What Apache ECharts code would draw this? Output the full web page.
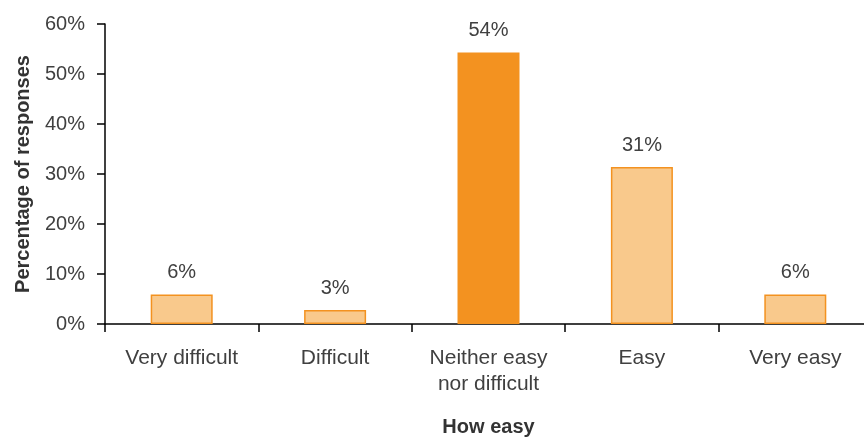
<!DOCTYPE html>
<html><head><meta charset="utf-8">
<script src="https://cdn.jsdelivr.net/npm/echarts@6/dist/echarts.min.js"></script>
<style>html,body{margin:0;padding:0;background:#fff}#c{width:864px;height:437px}</style>
</head><body><div id="c"></div>
<script>
const categories = ['Very difficult', 'Difficult', 'Neither easy\nnor difficult', 'Easy', 'Very easy'];
const values = [5.9, 2.8, 54.3, 31.4, 5.9];
const highlight = [false, false, true, false, false];
const yTicks = [0, 10, 20, 30, 40, 50, 60];

const chart = echarts.init(document.getElementById('c'));
const font = 'Liberation Sans, Arial, sans-serif';
chart.setOption({
  animation: false,
  grid: { left: 105, right: -8, top: 24, bottom: 113, containLabel: false, outerBoundsMode: 'none' },
  xAxis: {
    type: 'category', data: categories,
    name: 'How easy', nameLocation: 'middle', nameGap: 93,
    nameTextStyle: { fontFamily: font, fontSize: 20, fontWeight: 'bold', color: '#333' },
    axisLine: { lineStyle: { color: '#000', width: 1.5 } },
    axisTick: { show: true, alignWithLabel: false, length: 8, lineStyle: { color: '#000', width: 1.5 } },
    axisLabel: { fontFamily: font, fontSize: 21, color: '#404040', margin: 21, lineHeight: 26, interval: 0 }
  },
  yAxis: {
    type: 'value', min: yTicks[0], max: yTicks[yTicks.length - 1], interval: 10,
    name: 'Percentage of responses', nameLocation: 'middle', nameGap: 72, nameRotate: 90,
    nameTextStyle: { fontFamily: font, fontSize: 20, fontWeight: 'bold', color: '#333' },
    axisLine: { show: true, lineStyle: { color: '#000', width: 1.5 } },
    axisTick: { show: true, length: 8, lineStyle: { color: '#000', width: 1.5 } },
    splitLine: { show: false },
    axisLabel: { fontFamily: font, fontSize: 20, color: '#404040', margin: 20, formatter: v => v + '%' }
  },
  series: [{
    type: 'bar', barWidth: 62,
    data: values.map((v, i) => ({
      value: v,
      itemStyle: highlight[i]
        ? { color: '#F39220', borderColor: '#F39220', borderWidth: 0 }
        : { color: '#F9C98C', borderColor: '#F39220', borderWidth: 1.5 }
    })),
    label: { show: true, position: 'top', distance: 12, fontFamily: font, fontSize: 20, color: '#404040',
      formatter: p => Math.round(p.value) + '%' }
  }]
});
</script></body></html>
